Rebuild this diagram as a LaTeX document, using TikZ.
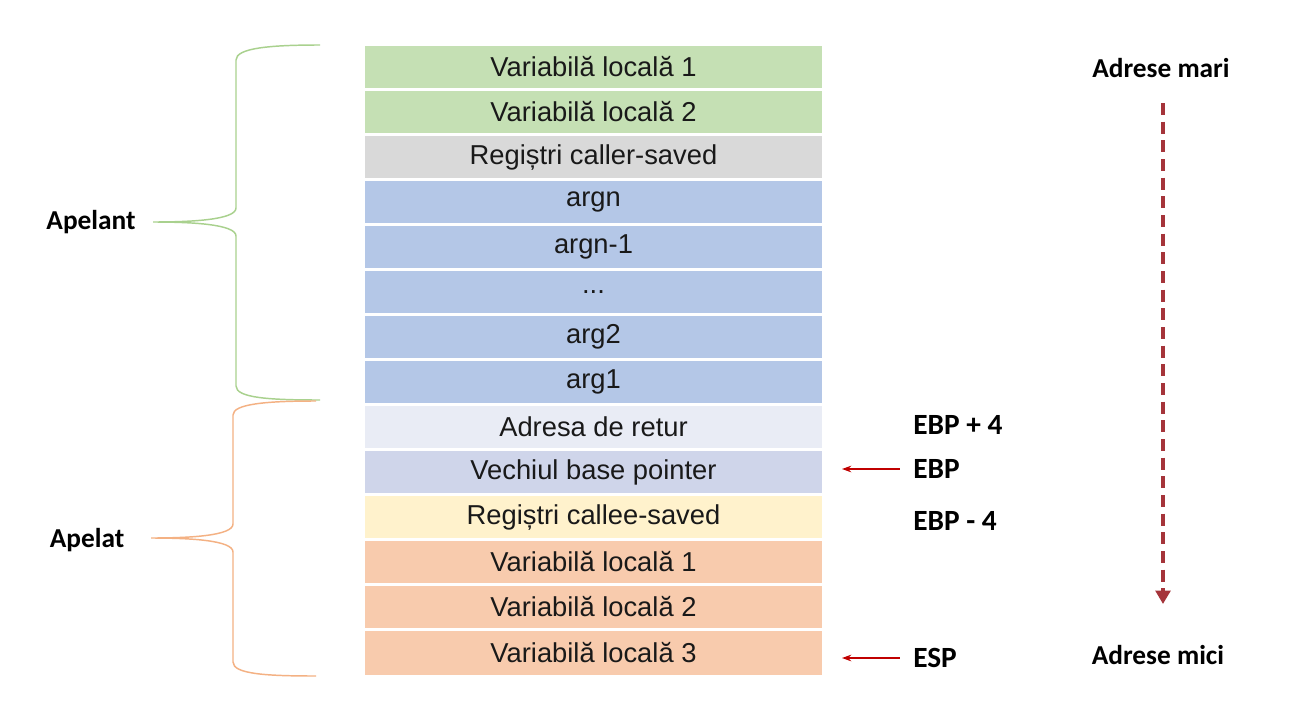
\documentclass[tikz,border=0pt]{standalone}
\usepackage{fontspec}
\setmainfont{Liberation Sans}
\newfontfamily\labelfont{Carlito}
\usetikzlibrary{arrows.meta}

\definecolor{cgreen}{HTML}{C5E0B4}
\definecolor{cgray}{HTML}{D9D9D9}
\definecolor{cblue}{HTML}{B4C7E7}
\definecolor{cret}{HTML}{E9ECF5}
\definecolor{cebp}{HTML}{CFD5EA}
\definecolor{cyellow}{HTML}{FFF2CC}
\definecolor{corange}{HTML}{F8CBAD}
\definecolor{bracegreen}{HTML}{A9D18E}
\definecolor{braceorange}{HTML}{F4B183}
\definecolor{ptrred}{HTML}{C00000}
\definecolor{flowred}{HTML}{A5343A}

\tikzset{
  % sizes in pt: one drawing unit is 0.75pt
  cell/.style={minimum width=342.75pt, minimum height=31.5pt, inner sep=0pt,
    font=\fontsize{20.5}{24}\selectfont, text=black!90},
  tag/.style={inner sep=0pt, font=\labelfont\bfseries\fontsize{20.5}{24}\selectfont},
  regtag/.style={tag, anchor=west, font=\labelfont\bfseries\fontsize{22}{26}\selectfont},
  bracegr/.style={draw=bracegreen, line width=1.1pt},
  braceor/.style={draw=braceorange, line width=1.1pt},
  ptr/.style={draw=ptrred, line width=1pt, -{Stealth[length=7pt,width=5pt]}},
  flow/.style={draw=flowred, line width=3.2pt, dash pattern=on 9pt off 5pt,
    -{Triangle[length=10pt,width=11pt]}},
}

\begin{document}
\begin{tikzpicture}[x=0.75pt,y=-0.75pt]
  \useasboundingbox[fill=white] (0,0) rectangle (1314,721);

  % stack cells, 45 px pitch with a thin white gap
  \node[cell, fill=cgreen]  (r1)  at (593.5, 67) {Variabilă locală 1};
  \node[cell, fill=cgreen]  (r2)  at (593.5,112) {Variabilă locală 2};
  \node[cell, fill=cgray]   (r3)  at (593.5,157) {Regiștri caller-saved};
  \node[cell, fill=cblue]   (r4)  at (593.5,202) {argn};
  \node[cell, fill=cblue]   (r5)  at (593.5,247) {argn-1};
  \node[cell, fill=cblue]   (r6)  at (593.5,292) {...};
  \node[cell, fill=cblue]   (r7)  at (593.5,337) {arg2};
  \node[cell, fill=cblue]   (r8)  at (593.5,382) {arg1};
  \node[cell, fill=cret]    (r9)  at (593.5,427) {Adresa de retur};
  \node[cell, fill=cebp]    (r10) at (593.5,472) {Vechiul base pointer};
  \node[cell, fill=cyellow] (r11) at (593.5,517) {Regiștri callee-saved};
  \node[cell, fill=corange] (r12) at (593.5,562) {Variabilă locală 1};
  \node[cell, fill=corange] (r13) at (593.5,607) {Variabilă locală 2};
  \node[cell, fill=corange, minimum height=33pt] (r14) at (593.5,653) {Variabilă locală 3};

  % group braces
  \node[tag] (apelant) at (91,222) {Apelant};
  \node[tag] (apelat)  at (87,540) {Apelat};

  \path[bracegr] (320,45) .. controls (270,45) and (236,48) .. (236,60)
    -- (236,208) .. controls (236,220) and (190,222) .. (153,222)
    .. controls (190,222) and (236,224) .. (236,236)
    -- (236,386) .. controls (236,398) and (270,400) .. (320,400);

  \path[braceor] (316,401) .. controls (266,401) and (233,404) .. (233,415)
    -- (233,524) .. controls (233,536) and (188,538) .. (151,538)
    .. controls (188,538) and (233,540) .. (233,552)
    -- (233,662) .. controls (233,674) and (266,676) .. (316,676);

  % frame pointer labels
  \node[regtag] (ebp4)  at (913,425) {EBP + 4};
  \node[regtag] (ebp)   at (913,469) {EBP};
  \node[regtag] (ebpm4) at (913,521) {EBP - 4};
  \node[regtag] (esp)   at (913,658) {ESP};

  \coordinate (ebptip) at (842,469);
  \coordinate (esptip) at (842,658);
  \draw[ptr] ([xshift=-10]ebp.west) -- (ebptip);
  \draw[ptr] ([xshift=-10]esp.west) -- (esptip);

  % address direction
  \node[tag] (mari) at (1161,68)  {Adrese mari};
  \node[tag] (mici) at (1158,655) {Adrese mici};
  \coordinate (flowtop) at (1163,103);
  \coordinate (flowbot) at (1163,604);
  \draw[flow] (flowtop) -- (flowbot);
\end{tikzpicture}
\end{document}
